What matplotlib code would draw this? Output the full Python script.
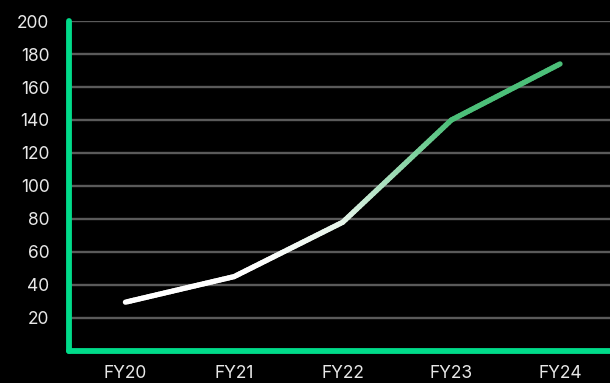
import numpy as np
import matplotlib

matplotlib.use("Agg")
import matplotlib.pyplot as plt
from matplotlib.collections import LineCollection
from matplotlib.colors import LinearSegmentedColormap

years = ["FY20", "FY21", "FY22", "FY23", "FY24"]
values = [29.5, 45, 78, 140, 174]
y_ticks = [20, 40, 60, 80, 100, 120, 140, 160, 180, 200]

BG = "#000000"
AXIS_GREEN = "#00db8a"
GRID = "#5a5a5a"
TEXT = "#e8e8e8"

plt.rcParams["font.family"] = ["Inter", "DejaVu Sans"]

fig = plt.figure(figsize=(6.10, 3.83), dpi=100, facecolor=BG)
ax = fig.add_axes([0.113, 0.084, 0.887, 0.861], facecolor=BG)

x = np.arange(len(years))
ax.set_xlim(-0.52, 4.46)
ax.set_ylim(0, 200)

for t in y_ticks:
    ax.axhline(t, color=GRID, lw=1.7, zorder=1)

# gradient line: white on the left, green on the right
cmap = LinearSegmentedColormap.from_list(
    "wg", [(0, "#ffffff"), (0.3, "#ffffff"), (0.5, "#e6f5ea"), (0.75, "#4cbf79"), (1, "#4cbf79")]
)
segs = []
cols = []
for i in range(len(x) - 1):
    xs = np.linspace(x[i], x[i + 1], 40)
    ys = np.linspace(values[i], values[i + 1], 40)
    pts = np.column_stack([xs, ys])
    for j in range(len(pts) - 1):
        segs.append(pts[j:j + 2])
        cols.append(cmap((xs[j] - x[0]) / (x[-1] - x[0])))
lc = LineCollection(segs, colors=cols, linewidths=3.8, capstyle="round", joinstyle="round", zorder=3)
ax.add_collection(lc)

ax.set_xticks(x)
ax.set_xticklabels(years)
ax.set_yticks(y_ticks)
ax.tick_params(axis="both", length=0, colors=TEXT, labelsize=12.5)
ax.tick_params(axis="y", pad=14)
ax.tick_params(axis="x", pad=10)

for side in ["top", "right"]:
    ax.spines[side].set_visible(False)
for side in ["left", "bottom"]:
    ax.spines[side].set_color(AXIS_GREEN)
    ax.spines[side].set_linewidth(4.2)
    ax.spines[side].set_capstyle("round")

fig.savefig("out.png", dpi=100, facecolor=BG)
